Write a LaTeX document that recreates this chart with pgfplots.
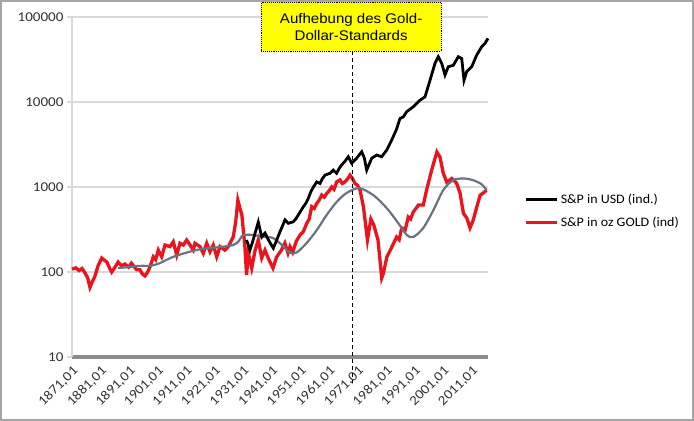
\documentclass[border=0pt]{standalone}
\usepackage{pgfplots}
\pgfplotsset{compat=1.18}
\usepackage{fontspec}
\setmainfont{Carlito}
\newfontfamily\tickfont[FakeStretch=1.12]{Carlito}
\newfontfamily\legfont[FakeStretch=1.08]{Carlito}
\newfontfamily\boxfont[FakeStretch=1.08]{Liberation Sans}
\definecolor{gridc}{RGB}{217,217,217}
\definecolor{axc}{RGB}{140,140,140}
\definecolor{slate}{RGB}{105,115,130}
\definecolor{sred}{RGB}{235,20,30}
\definecolor{framec}{RGB}{165,165,165}
\definecolor{boxy}{RGB}{255,255,0}
\begin{document}
\begin{tikzpicture}
\useasboundingbox (0,0) rectangle (694bp,421bp);
\fill[white] (0,0) rectangle (694bp,421bp);
\draw[framec, line width=2bp] (1bp,1bp) rectangle (693bp,420bp);
\begin{axis}[
  at={(72bp,64bp)}, anchor=south west, scale only axis,
  width=416bp, height=340bp,
  xmin=1871, xmax=2016.6, ymode=log, ymin=10, ymax=100000,
  separate axis lines,
  axis x line*=bottom, axis y line*=left,
  x axis line style={axc, line width=4.5bp, -},
  y axis line style={gridc, line width=1.2bp, -},
  ymajorgrids, yminorticks=false,
  grid style={gridc, line width=1.2bp},
  ytick={10,100,1000,10000,100000},
  yticklabels={10,100,1000,10000,100000},
  xtick={1871,1881,1891,1901,1911,1921,1931,1941,1951,1961,1971,1981,1991,2001,2011},
  xticklabels={{1871,01},{1881,01},{1891,01},{1901,01},{1911,01},{1921,01},{1931,01},{1941,01},{1951,01},{1961,01},{1971,01},{1981,01},{1991,01},{2001,01},{2011,01}},
  x tick style={draw=none},
  y tick style={gridc, line width=1.2bp},
  tick align=outside, major tick length=5bp,
  xticklabel style={rotate=45, anchor=north east, inner sep=2bp, font=\tickfont\fontsize{13.5}{14}\selectfont, text=black!80},
  yticklabel style={font=\tickfont\fontsize{13.5}{14}\selectfont, text=black!80},
  clip=false,
  legend style={draw=none, fill=none, at={(1.08,0.43)}, anchor=west,
    font=\legfont\fontsize{13}{15}\selectfont, row sep=8bp},
  legend cell align=left,
  legend image code/.code={\draw[#1] (2bp,0bp) -- (33bp,0bp);},
]
\addplot[sred, line width=3.3bp, forget plot] coordinates {
(1871,108) (1872.3,112) (1873.5,104) (1874.5,110) (1875.6,97) (1876.5,85)
(1877.3,66) (1878.2,78) (1878.9,87) (1880.2,120) (1881.4,146) (1882.3,138)
(1883.2,131) (1884.2,110) (1884.9,100) (1885.9,112) (1887.15,131) (1888.35,118)
(1889.5,124) (1890.8,114) (1891.8,127) (1892.8,115) (1893.7,106) (1894.8,106)
(1895.6,95) (1896.55,90) (1897.5,100) (1898.3,115) (1899.45,151) (1900.3,140)
(1901.2,181) (1902.4,151) (1903.55,208) (1905.3,199) (1906.45,227) (1907.65,158)
(1908.8,218) (1909.95,208) (1911.15,238) (1912.3,208) (1913.45,181) (1914.05,218)
(1915.8,199) (1916.95,166) (1918.15,218) (1919.3,173) (1920.45,208) (1921.65,151)
(1922.8,199) (1924.55,181) (1925.7,199) (1927.45,260) (1928.3,390) (1929.05,700)
(1929.8,560) (1930.45,470) (1931.5,200) (1932.1,92) (1932.7,167) (1933.9,111)
(1935.1,181) (1936.2,238) (1937.4,146) (1938.55,181) (1939.65,146) (1941.35,111)
(1942.6,150) (1944.3,181) (1945.5,219) (1946.6,167) (1947.3,199) (1948.25,171)
(1949.5,230) (1950.8,272) (1952,300) (1953.15,374) (1954,420) (1954.9,587)
(1955.8,560) (1956.65,640) (1957.5,700) (1958.4,805) (1959.3,760) (1960.15,840)
(1961.0,900) (1961.9,1000) (1962.7,940) (1963.65,1150) (1964.8,1210) (1965.6,1100)
(1966.55,1150) (1967.5,1250) (1968.3,1380) (1969.2,1250) (1970.05,1100) (1970.9,1050)
(1971.8,920) (1973,587) (1974.4,238) (1975.6,420) (1976.6,360) (1978.1,238)
(1979.4,85) (1980.0,97) (1981.2,150) (1982.95,197) (1984.6,258) (1985.5,240)
(1986.4,330) (1987.6,312) (1988.7,443) (1989.5,420) (1990.45,508) (1991.4,560)
(1992.25,613) (1993.95,613) (1995.1,920) (1996.9,1590) (1998.7,2580) (1999.8,2250)
(2000.95,1450) (2002.15,1140) (2003.95,1260) (2005.6,1110) (2006.8,850) (2008.0,490)
(2009.2,430) (2010.3,330) (2011.45,410) (2012.65,580) (2013.85,800) (2014.95,850)
(2016.1,920)
};
\addplot[slate, line width=2.2bp, smooth, forget plot] coordinates {
(1887.15,111) (1894.8,118) (1898.35,118) (1901.7,127) (1906.45,151) (1913.5,178)
(1918.15,190) (1922.5,196) (1927.45,208) (1929.3,230) (1930.95,272) (1934.4,272)
(1937.95,260) (1941.45,250) (1945.0,200) (1947.3,168) (1949.65,170) (1953.1,219)
(1956.7,312) (1960.15,470) (1963.6,665) (1967.1,850) (1971.5,970) (1976.5,800)
(1981.15,565) (1985.2,375) (1988.2,272) (1990.45,258) (1993.95,330) (1997.5,536)
(2000.95,920) (2004.35,1200) (2008.0,1260) (2011.45,1200) (2014.3,1080) (2016.1,920)
};
\addplot[black, line width=2.8bp, forget plot] coordinates {
(1932.1,238) (1933.3,181) (1934.4,238) (1936.2,387) (1937.4,258) (1938.55,287)
(1939.75,238) (1941.45,191) (1942.5,230) (1943.8,298) (1944.7,350) (1945.55,410)
(1946.7,374) (1948.45,390) (1949.3,420) (1950.2,469) (1952,587) (1952.8,640)
(1953.7,736) (1954.6,880) (1955.5,1000) (1956.65,1150) (1957.8,1100) (1958.6,1250)
(1959.55,1380) (1961.3,1450) (1962.45,1580) (1963.6,1450) (1964.5,1650) (1965.4,1820)
(1966.5,2000) (1967.7,2270) (1968.9,1900) (1970.6,2180) (1972.4,2600) (1973.3,2200)
(1974.15,1580) (1975.9,2180) (1977.65,2380) (1979.4,2270) (1981.15,2720) (1982.95,3600)
(1984.6,4800) (1985.8,6400) (1987.0,6700) (1988.15,7700) (1990.45,8800) (1992.8,10500)
(1994.55,11500) (1996.3,18000) (1998.05,28500) (1999.2,34100) (2000.4,28500) (2001.55,20800)
(2002.7,26000) (2004.45,27000) (2006.2,34100) (2007.4,32500) (2008.2,18000) (2009.15,22700)
(2010.9,26000) (2012.65,35700) (2014.4,44700) (2015.55,49000) (2016.6,56000)
};
\addlegendimage{black, line width=2.8bp}
\addlegendentry{S\&P in USD (ind.)}
\addlegendimage{sred, line width=3.3bp}
\addlegendentry{S\&P in oz GOLD (ind)}
\draw[black, line width=0.9bp, dash pattern=on 4bp off 3bp]
  ({axis cs:1969,10} |- {rel axis cs:0,0.9}) -- ({axis cs:1969,10} |- {rel axis cs:0,-0.076});
\node[fill=boxy, draw=black, densely dotted, line width=0.9bp, minimum width=180bp,
  minimum height=49bp, align=center, inner sep=0pt, anchor=north,
  font=\boxfont\fontsize{14}{17}\selectfont]
  at ({axis cs:1968.7,10} |- {rel axis cs:0,1.044}) {Aufhebung des Gold-\\Dollar-Standards};
\end{axis}
\end{tikzpicture}
\end{document}
